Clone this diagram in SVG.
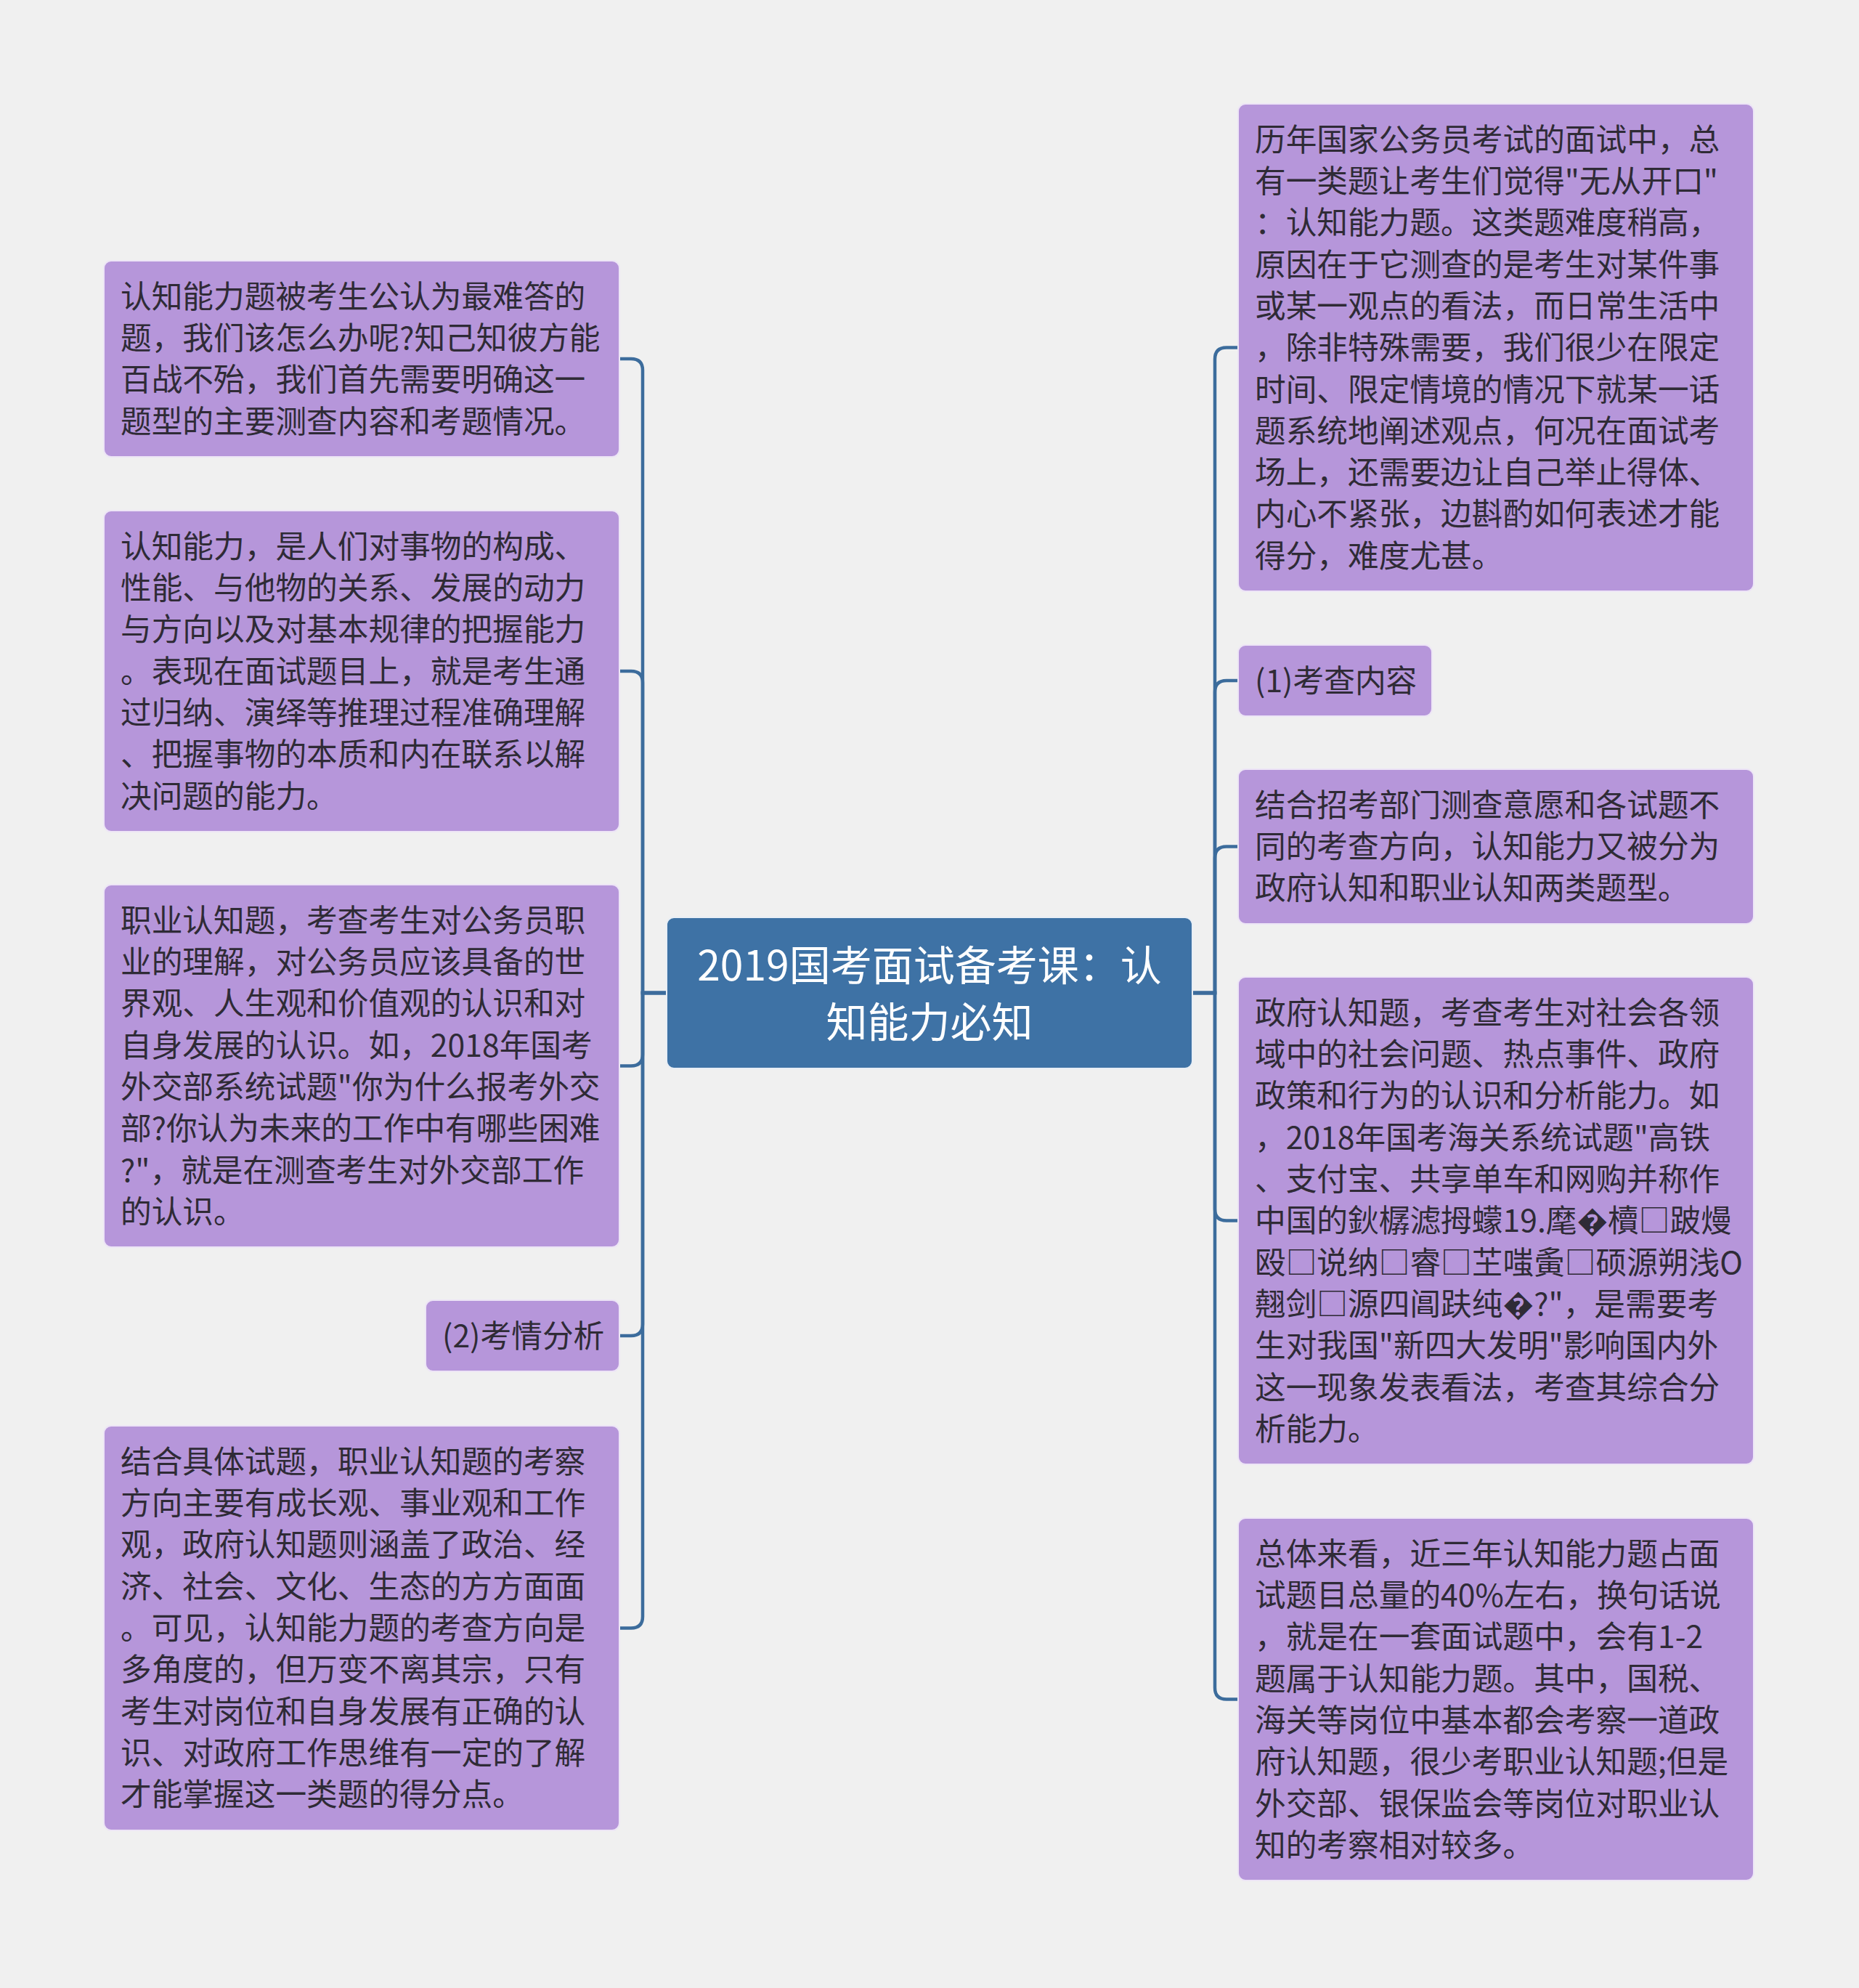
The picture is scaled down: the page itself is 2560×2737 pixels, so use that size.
<svg xmlns="http://www.w3.org/2000/svg" width="2560" height="2737" viewBox="0 0 2560 2737">
<style>
.bg{fill:#F0F0F0}
.node rect{fill:#B696DA;stroke:#EDE5F6;stroke-width:2}
.node text{font-family:"Noto Sans CJK SC","Noto Sans",sans-serif;font-size:42.7px;fill:#2F2B36}
.root rect{fill:#3E72A5;stroke:#E8EEF5;stroke-width:2}
.root text{font-family:"Noto Sans CJK SC","Noto Sans",sans-serif;font-size:57px;fill:#FFFFFF;text-anchor:middle}
.links path{fill:none;stroke:#3C6C9C;stroke-width:4.5}
</style>
<rect class="bg" x="0" y="0" width="2560" height="2737"/>
<g class="links">
<path d="M918,1367 H885 V510 Q885,494 869,494 H853"/>
<path d="M918,1367 H885 V940 Q885,924 869,924 H853"/>
<path d="M918,1367 H885 V1451.5 Q885,1467.5 869,1467.5 H853"/>
<path d="M918,1367 H885 V1823 Q885,1839 869,1839 H853"/>
<path d="M918,1367 H885 V2225.5 Q885,2241.5 869,2241.5 H853"/>
<path d="M1642,1367 H1673 V494.5 Q1673,478.5 1689,478.5 H1705"/>
<path d="M1642,1367 H1673 V953 Q1673,937 1689,937 H1705"/>
<path d="M1642,1367 H1673 V1181.5 Q1673,1165.5 1689,1165.5 H1705"/>
<path d="M1642,1367 H1673 V1664.5 Q1673,1680.5 1689,1680.5 H1705"/>
<path d="M1642,1367 H1673 V2323.5 Q1673,2339.5 1689,2339.5 H1705"/>
</g>
<g id="root" class="root">
<rect x="918" y="1263" width="724" height="208" rx="10"/>
<text x="1280" y="1350">2019国考面试备考课：认</text>
<text x="1280" y="1428">知能力必知</text>
</g>
<g id="L1" class="node">
<rect x="143" y="359" width="710" height="270" rx="10"/>
<text x="166" y="423.8"><tspan x="166">认知能力题被考生公认为最难答的</tspan><tspan x="166" dy="57.3">题，我们该怎么办呢?知己知彼方能</tspan><tspan x="166" dy="57.3">百战不殆，我们首先需要明确这一</tspan><tspan x="166" dy="57.3">题型的主要测查内容和考题情况。</tspan></text>
</g>
<g id="L2" class="node">
<rect x="143" y="703" width="710" height="442" rx="10"/>
<text x="166" y="767.8"><tspan x="166">认知能力，是人们对事物的构成、</tspan><tspan x="166" dy="57.3">性能、与他物的关系、发展的动力</tspan><tspan x="166" dy="57.3">与方向以及对基本规律的把握能力</tspan><tspan x="166" dy="57.3">。表现在面试题目上，就是考生通</tspan><tspan x="166" dy="57.3">过归纳、演绎等推理过程准确理解</tspan><tspan x="166" dy="57.3">、把握事物的本质和内在联系以解</tspan><tspan x="166" dy="57.3">决问题的能力。</tspan></text>
</g>
<g id="L3" class="node">
<rect x="143" y="1218" width="710" height="499" rx="10"/>
<text x="166" y="1282.8"><tspan x="166">职业认知题，考查考生对公务员职</tspan><tspan x="166" dy="57.3">业的理解，对公务员应该具备的世</tspan><tspan x="166" dy="57.3">界观、人生观和价值观的认识和对</tspan><tspan x="166" dy="57.3">自身发展的认识。如，2018年国考</tspan><tspan x="166" dy="57.3">外交部系统试题"你为什么报考外交</tspan><tspan x="166" dy="57.3">部?你认为未来的工作中有哪些困难</tspan><tspan x="166" dy="57.3">?"，就是在测查考生对外交部工作</tspan><tspan x="166" dy="57.3">的认识。</tspan></text>
</g>
<g id="L4" class="node">
<rect x="586" y="1790" width="267" height="98" rx="10"/>
<text x="609" y="1854.8">(2)考情分析</text>
</g>
<g id="L5" class="node">
<rect x="143" y="1963" width="710" height="557" rx="10"/>
<text x="166" y="2027.8"><tspan x="166">结合具体试题，职业认知题的考察</tspan><tspan x="166" dy="57.3">方向主要有成长观、事业观和工作</tspan><tspan x="166" dy="57.3">观，政府认知题则涵盖了政治、经</tspan><tspan x="166" dy="57.3">济、社会、文化、生态的方方面面</tspan><tspan x="166" dy="57.3">。可见，认知能力题的考查方向是</tspan><tspan x="166" dy="57.3">多角度的，但万变不离其宗，只有</tspan><tspan x="166" dy="57.3">考生对岗位和自身发展有正确的认</tspan><tspan x="166" dy="57.3">识、对政府工作思维有一定的了解</tspan><tspan x="166" dy="57.3">才能掌握这一类题的得分点。</tspan></text>
</g>
<g id="R1" class="node">
<rect x="1705" y="143" width="710" height="671" rx="10"/>
<text x="1728" y="207.8"><tspan x="1728">历年国家公务员考试的面试中，总</tspan><tspan x="1728" dy="57.3">有一类题让考生们觉得"无从开口"</tspan><tspan x="1728" dy="57.3">：认知能力题。这类题难度稍高，</tspan><tspan x="1728" dy="57.3">原因在于它测查的是考生对某件事</tspan><tspan x="1728" dy="57.3">或某一观点的看法，而日常生活中</tspan><tspan x="1728" dy="57.3">，除非特殊需要，我们很少在限定</tspan><tspan x="1728" dy="57.3">时间、限定情境的情况下就某一话</tspan><tspan x="1728" dy="57.3">题系统地阐述观点，何况在面试考</tspan><tspan x="1728" dy="57.3">场上，还需要边让自己举止得体、</tspan><tspan x="1728" dy="57.3">内心不紧张，边斟酌如何表述才能</tspan><tspan x="1728" dy="57.3">得分，难度尤甚。</tspan></text>
</g>
<g id="R2" class="node">
<rect x="1705" y="888" width="267" height="98" rx="10"/>
<text x="1728" y="952.8">(1)考查内容</text>
</g>
<g id="R3" class="node">
<rect x="1705" y="1059" width="710" height="213" rx="10"/>
<text x="1728" y="1123.8"><tspan x="1728">结合招考部门测查意愿和各试题不</tspan><tspan x="1728" dy="57.3">同的考查方向，认知能力又被分为</tspan><tspan x="1728" dy="57.3">政府认知和职业认知两类题型。</tspan></text>
</g>
<g id="R4" class="node">
<rect x="1705" y="1345" width="710" height="671" rx="10"/>
<text x="1728" y="1409.8"><tspan x="1728">政府认知题，考查考生对社会各领</tspan><tspan x="1728" dy="57.3">域中的社会问题、热点事件、政府</tspan><tspan x="1728" dy="57.3">政策和行为的认识和分析能力。如</tspan><tspan x="1728" dy="57.3">，2018年国考海关系统试题"高铁</tspan><tspan x="1728" dy="57.3">、支付宝、共享单车和网购并称作</tspan><tspan x="1728" dy="57.3">中国的鈥樼滤拇蠓19.麾�櫝□跛熳</tspan><tspan x="1728" dy="57.3">殴□说纳□睿□芏嗤夤□硕源朔浅O</tspan><tspan x="1728" dy="57.3">翹剑□源四阊趺纯�?"，是需要考</tspan><tspan x="1728" dy="57.3">生对我国"新四大发明"影响国内外</tspan><tspan x="1728" dy="57.3">这一现象发表看法，考查其综合分</tspan><tspan x="1728" dy="57.3">析能力。</tspan></text>
</g>
<g id="R5" class="node">
<rect x="1705" y="2090" width="710" height="499" rx="10"/>
<text x="1728" y="2154.8"><tspan x="1728">总体来看，近三年认知能力题占面</tspan><tspan x="1728" dy="57.3">试题目总量的40%左右，换句话说</tspan><tspan x="1728" dy="57.3">，就是在一套面试题中，会有1-2</tspan><tspan x="1728" dy="57.3">题属于认知能力题。其中，国税、</tspan><tspan x="1728" dy="57.3">海关等岗位中基本都会考察一道政</tspan><tspan x="1728" dy="57.3">府认知题，很少考职业认知题;但是</tspan><tspan x="1728" dy="57.3">外交部、银保监会等岗位对职业认</tspan><tspan x="1728" dy="57.3">知的考察相对较多。</tspan></text>
</g>
</svg>
